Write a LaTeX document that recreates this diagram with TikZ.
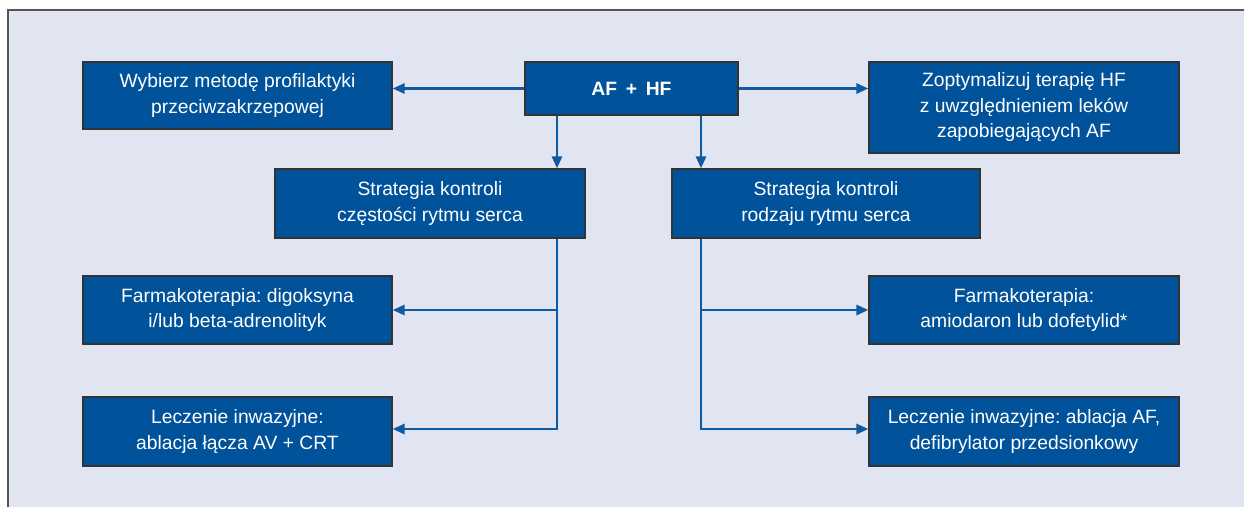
\documentclass[tikz,border=0pt]{standalone}
\usepackage{fontspec}
\setmainfont{Liberation Sans}
\usetikzlibrary{arrows.meta}
\frenchspacing
\definecolor{bgc}{HTML}{E1E5F1}
\definecolor{boxc}{HTML}{00529A}
\definecolor{linec}{HTML}{0F5AA0}
\definecolor{framec}{HTML}{555555}
\tikzset{
  box/.style={draw=black!80, line width=1.2pt, fill=boxc, text=white, align=center,
    font=\fontsize{19.3}{25.5}\selectfont, inner sep=0pt},
  arr/.style={draw=linec, line width=2.8pt, -{Triangle[length=12pt,width=10pt]}},
  ln/.style={draw=linec, line width=2.8pt},
}
\begin{document}
\begin{tikzpicture}[x=1pt,y=-1pt]
\useasboundingbox (0,0) rectangle (1244,507);
\fill[bgc] (8,10) rectangle (1244,507);
\draw[framec, line width=1.3pt] (8,507) -- (8,10) -- (1244,10);

\node[box, minimum width=309, minimum height=67] (A) at (237.5,95.5) {Wybierz metodę profilaktyki\\przeciwzakrzepowej};
\node[box, minimum width=213, minimum height=53, font=\fontsize{19.3}{25.5}\selectfont\bfseries] (AF) at (631.5,88.5) {AF\hspace{0.45em}+\hspace{0.45em}HF};
\node[box, minimum width=310, minimum height=91] (Z) at (1024,107.5) {Zoptymalizuj terapię HF\\z uwzględnieniem leków\\zapobiegających AF};
\node[box, minimum width=310, minimum height=69] (SL) at (430,203.5) {Strategia kontroli\\częstości rytmu serca};
\node[box, minimum width=308, minimum height=69] (SR) at (826,203.5) {Strategia kontroli\\rodzaju rytmu serca};
\node[box, minimum width=309, minimum height=68] (FL) at (237.5,310) {Farmakoterapia: digoksyna\\i/lub beta-adrenolityk};
\node[box, minimum width=310, minimum height=68] (FR) at (1024,310) {Farmakoterapia:\\amiodaron lub dofetylid*};
\node[box, minimum width=309, minimum height=69] (LL) at (237.5,431.5) {Leczenie inwazyjne:\\ablacja łącza AV + CRT};
\node[box, minimum width=310, minimum height=69] (LR) at (1024,431.5) {Leczenie inwazyjne: ablacja AF,\\defibrylator przedsionkowy};

\coordinate (d1) at (557,0);
\coordinate (d2) at (701,0);
\coordinate (yb) at (0,429);

\draw[arr] (AF.west) -- (AF.west -| A.east);
\draw[arr] (AF.east) -- (AF.east -| Z.west);
\draw[arr] (AF.south -| d1) -- (SL.north -| d1);
\draw[arr] (AF.south -| d2) -- (SR.north -| d2);

\draw[ln] (SL.south -| d1) -- (d1 |- yb);
\draw[arr] (d1 |- FL.east) -- (FL.east);
\draw[arr] ([xshift=1.4pt]d1 |- yb) -- (LL.east |- yb);

\draw[ln] (SR.south -| d2) -- (d2 |- yb);
\draw[arr] (d2 |- FR.west) -- (FR.west);
\draw[arr] ([xshift=-1.4pt]d2 |- yb) -- (LR.west |- yb);
\end{tikzpicture}
\end{document}
